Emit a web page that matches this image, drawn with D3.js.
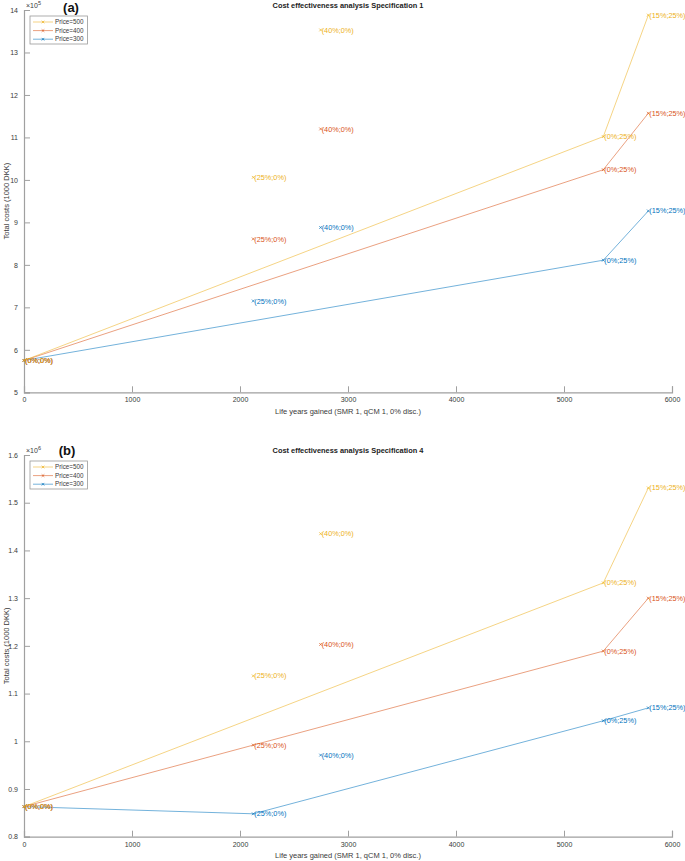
<!DOCTYPE html>
<html>
<head>
<meta charset="utf-8">
<script src="https://cdn.jsdelivr.net/npm/d3@7"></script>
<style>
  body { margin: 0; background: #fff; }
  svg { font-family: "Liberation Sans", Arial, sans-serif; }
</style>
</head>
<body>
<div id="chart"></div>
<script>
var width = 685;
var height = 861;

// scenario labels and life years gained (x)
var scenarios = ["(0%;0%)", "(25%;0%)", "(40%;0%)", "(0%;25%)", "(15%;25%)"];
var lifeYears = [0, 2123, 2747, 5364, 5781];
var prices = ["Price=500", "Price=400", "Price=300"];
var colors = ["#EDB120", "#D95319", "#0072BD"];

// panel (a), costs x10^5
var costsA500 = [5.75, 10.06, 13.53, 11.02, 13.88];
var costsA400 = [5.75, 8.61, 11.20, 10.24, 11.57];
var costsA300 = [5.75, 7.15, 8.88, 8.11, 9.27];
var frontA500 = [0, 3, 4];
var frontA400 = [0, 3, 4];
var frontA300 = [0, 3, 4];

// panel (b), costs x10^6
var costsB500 = [0.863, 1.137, 1.435, 1.332, 1.531];
var costsB400 = [0.863, 0.992, 1.203, 1.189, 1.300];
var costsB300 = [0.863, 0.848, 0.971, 1.043, 1.070];
var frontB500 = [0, 3, 4];
var frontB400 = [0, 1, 3, 4];
var frontB300 = [0, 1, 3, 4];

var xTicks = [0, 1000, 2000, 3000, 4000, 5000, 6000];
var yTicksA = [5, 6, 7, 8, 9, 10, 11, 12, 13, 14];
var yTicksB = [0.8, 0.9, 1, 1.1, 1.2, 1.3, 1.4, 1.5, 1.6];

var svg = d3
  .select("#chart")
  .append("svg")
  .attr("width", width)
  .attr("height", height);

var axisColor = "#a0a0a0";
var textColor = "#3a3a3a";

var x = d3.scaleLinear().domain([0, 6000]).range([24, 672]);

function panel(opts) {
  var g = svg.append("g");
  var y = d3.scaleLinear().domain(opts.yDomain).range(opts.yRange);
  var top = opts.yRange[1];
  var bottom = opts.yRange[0];

  // title
  g.append("text")
    .attr("x", 348)
    .attr("y", top - 2)
    .attr("text-anchor", "middle")
    .attr("font-size", "7.4px")
    .attr("font-weight", "bold")
    .attr("fill", "#222")
    .text(opts.title);

  g.append("text")
    .attr("x", opts.tagX)
    .attr("y", top + opts.tagDy)
    .attr("text-anchor", "middle")
    .attr("font-size", "13px")
    .attr("font-weight", "bold")
    .attr("fill", "#111")
    .text(opts.tag);

  // axes
  var xAxis = d3.axisBottom(x).tickValues(xTicks).tickSize(-6).tickPadding(5)
    .tickFormat(d3.format("d"));
  var gx = g.append("g").attr("transform", "translate(0," + bottom + ")").call(xAxis);

  var yAxis = d3.axisLeft(y).tickValues(opts.yTicks).tickSize(-6).tickPadding(6)
    .tickFormat(function(d) { return d3.format("~g")(d); });
  var gy = g.append("g").attr("transform", "translate(24,0)").call(yAxis);

  [gx, gy].forEach(function(a) {
    a.select(".domain").attr("stroke", axisColor).attr("stroke-width", 1.2);
    a.selectAll(".tick line").attr("stroke", axisColor);
    a.selectAll(".tick text").attr("fill", textColor).attr("font-size", "7px")
      .attr("font-family", "Liberation Sans, Arial, sans-serif");
  });

  // exponent
  var ex = g.append("text")
    .attr("x", 26)
    .attr("y", top - 2)
    .attr("font-size", "7px")
    .attr("fill", textColor);
  ex.append("tspan").text("\u00d710");
  ex.append("tspan").attr("dy", -3).attr("font-size", "5.5px").text(opts.exp);

  // axis labels
  g.append("text")
    .attr("x", 348)
    .attr("y", bottom + 21.5)
    .attr("text-anchor", "middle")
    .attr("font-size", "7.5px")
    .attr("fill", textColor)
    .text("Life years gained (SMR 1, qCM 1, 0% disc.)");

  g.append("text")
    .attr("transform", "translate(9," + (top + bottom) / 2 + ") rotate(-90)")
    .attr("text-anchor", "middle")
    .attr("font-size", "7.5px")
    .attr("fill", textColor)
    .text("Total costs (1000 DKK)");

  // series, drawn 300 first so 500 ends on top
  var line = d3.line()
    .x(function(i) { return x(lifeYears[i]); });

  for (var s = 2; s >= 0; s--) {
    var vals = opts.costs[s];
    line.y(function(i) { return y(vals[i]); });
    g.append("path")
      .attr("d", line(opts.fronts[s]))
      .attr("fill", "none")
      .attr("stroke", colors[s])
      .attr("stroke-opacity", 0.55)
      .attr("stroke-width", 1);

    var pts = g.selectAll(null)
      .data(scenarios.map(function(lab, i) { return { lab: lab, x: lifeYears[i], y: vals[i] }; }))
      .enter()
      .append("g")
      .attr("transform", function(d) { return "translate(" + x(d.x) + "," + y(d.y) + ")"; });

    pts.append("path")
      .attr("d", "M-1.4,-1.4L1.4,1.4M-1.4,1.4L1.4,-1.4")
      .attr("stroke", colors[s])
      .attr("stroke-width", 0.7);

    pts.append("text")
      .attr("x", 1)
      .attr("dy", "0.35em")
      .attr("font-size", "7.3px")
      .attr("fill", colors[s])
      .text(function(d) { return d.lab; });
  }

  // legend
  var lg = g.append("g").attr("transform", "translate(30," + (top + 6) + ")");
  lg.append("rect")
    .attr("width", 57.5)
    .attr("height", 28)
    .attr("fill", "#fff")
    .attr("stroke", "#999")
    .attr("stroke-width", 0.8);
  prices.forEach(function(p, i) {
    var yy = 6 + i * 8.6;
    lg.append("line")
      .attr("x1", 3).attr("x2", 23).attr("y1", yy).attr("y2", yy)
      .attr("stroke", colors[i]).attr("stroke-opacity", 0.55);
    lg.append("path")
      .attr("transform", "translate(13," + yy + ")")
      .attr("d", "M-1.3,-1.3L1.3,1.3M-1.3,1.3L1.3,-1.3")
      .attr("stroke", colors[i]).attr("stroke-width", 0.7);
    lg.append("text")
      .attr("x", 25)
      .attr("y", yy)
      .attr("dy", "0.35em")
      .attr("font-size", "6.3px")
      .attr("fill", textColor)
      .text(p);
  });
}

panel({
  title: "Cost effectiveness analysis Specification 1",
  tag: "(a)",
  tagX: 71,
  tagDy: 2,
  exp: "5",
  yDomain: [5, 14],
  yRange: [392.3, 10],
  yTicks: yTicksA,
  costs: [costsA500, costsA400, costsA300],
  fronts: [frontA500, frontA400, frontA300]
});

panel({
  title: "Cost effectiveness analysis Specification 4",
  tag: "(b)",
  tagX: 67,
  tagDy: 0,
  exp: "6",
  yDomain: [0.8, 1.6],
  yRange: [836.7, 455],
  yTicks: yTicksB,
  costs: [costsB500, costsB400, costsB300],
  fronts: [frontB500, frontB400, frontB300]
});
</script>
</body>
</html>
